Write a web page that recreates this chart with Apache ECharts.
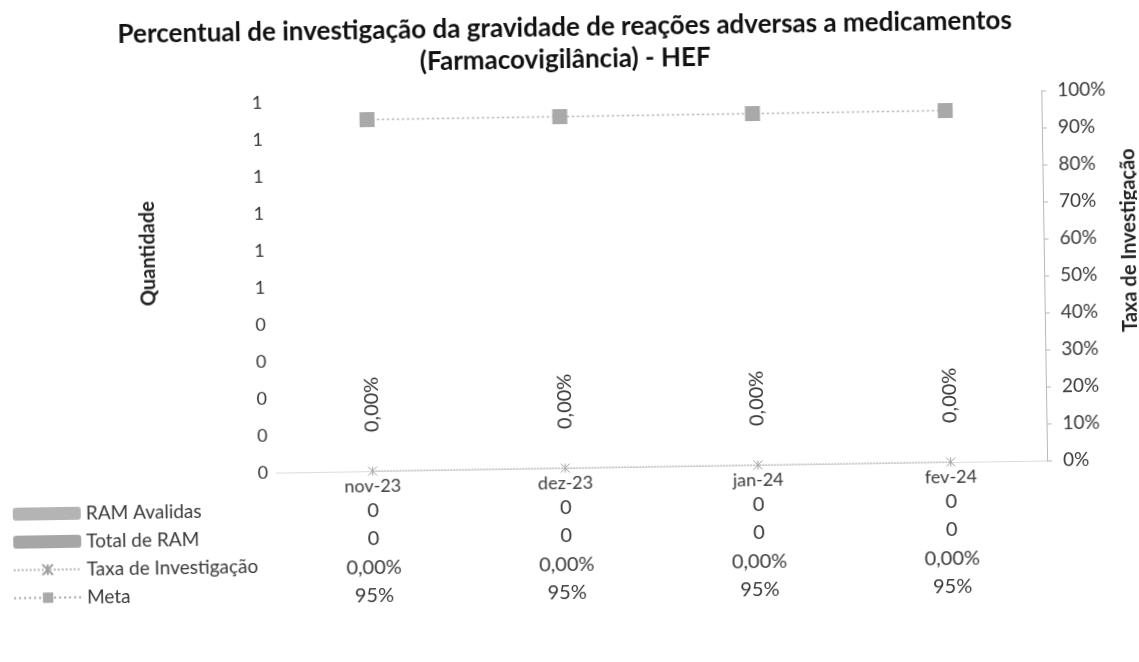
<!DOCTYPE html>
<html>
<head>
<meta charset="utf-8">
<script src="https://cdn.jsdelivr.net/npm/echarts@6/dist/echarts.min.js"></script>
<style>
  html, body { margin: 0; padding: 0; background: #fff; overflow: hidden; }
  /* the reference is a slightly tilted scan */
  #chart { width: 1139px; height: 662px; transform: rotate(-0.9deg); }
</style>
</head>
<body>
<div id="chart"></div>
<script>
const categories = ['nov-23', 'dez-23', 'jan-24', 'fev-24'];
const ramAvaliadas = [0, 0, 0, 0];
const totalRam = [0, 0, 0, 0];
const taxaInvestigacao = [0, 0, 0, 0];
const meta = [0.95, 0.95, 0.95, 0.95];

const FONT = 'Lato, "Open Sans", sans-serif';
const TXT = '#3a3a3a';

// Excel-style number formats
function pctBR(v, digits) {
  return (v * 100).toFixed(digits).replace('.', ',') + '%';
}

// asterisk marker used by Excel for the rate series
const asterisk = 'path://M0,0L10,10M10,0L0,10M5,0L5,10';

// data table rows are drawn as extra category axes under the plot
function tableAxis(values, offset) {
  return {
    type: 'category',
    data: values,
    position: 'bottom',
    offset: offset,
    axisLine: { show: false },
    axisTick: { show: false },
    axisLabel: { fontFamily: FONT, fontSize: 20, color: TXT, margin: 5 }
  };
}

const chart = echarts.init(document.getElementById('chart'));

chart.setOption({
  animation: false,
  title: {
    text: 'Percentual de investigação da gravidade de reações adversas a medicamentos\n(Farmacovigilância) - HEF',
    left: 'center',
    top: 7,
    textStyle: { fontFamily: FONT, fontSize: 26, fontWeight: 'bold', color: '#111', lineHeight: 32 }
  },
  legend: {
    orient: 'vertical',
    left: 4,
    top: 491,
    itemWidth: 68,
    itemHeight: 13,
    itemGap: 9,
    textStyle: { fontFamily: FONT, fontSize: 19, color: TXT },
    data: ['RAM Avalidas', 'Total de RAM', 'Taxa de Investigação', 'Meta']
  },
  grid: { left: 274, right: 94, top: 98, bottom: 194, outerBoundsMode: 'none' },
  xAxis: [
    {
      type: 'category',
      data: categories,
      axisLine: { show: true, lineStyle: { color: '#dcdcdc' } },
      axisTick: { show: false },
      axisLabel: { fontFamily: FONT, fontSize: 18, color: TXT, margin: 6 }
    },
    tableAxis(ramAvaliadas.map(v => String(v)), 25),
    tableAxis(totalRam.map(v => String(v)), 53),
    tableAxis(taxaInvestigacao.map(v => pctBR(v, 2)), 82),
    tableAxis(meta.map(v => pctBR(v, 0)), 110)
  ],
  yAxis: [
    {
      type: 'value',
      min: 0,
      max: 1,
      interval: 0.1,
      name: 'Quantidade',
      nameLocation: 'middle',
      nameRotate: 90,
      nameGap: 114,
      nameTextStyle: { fontFamily: FONT, fontSize: 20, fontWeight: 'bold', color: '#222', padding: [0, 0, 0, 72] },
      axisLine: { show: false },
      axisTick: { show: false },
      splitLine: { show: false },
      axisLabel: { fontFamily: FONT, fontSize: 18, color: TXT, margin: 8, formatter: v => String(Math.round(v)) }
    },
    {
      type: 'value',
      min: 0,
      max: 1,
      interval: 0.1,
      position: 'right',
      name: 'Taxa de Investigação',
      nameLocation: 'middle',
      nameRotate: 90,
      nameGap: 70,
      nameTextStyle: { fontFamily: FONT, fontSize: 20, fontWeight: 'bold', color: '#222', padding: [0, 0, 0, 68] },
      axisLine: { show: true, lineStyle: { color: '#b8b8b8' } },
      axisTick: { show: true, length: 5, lineStyle: { color: '#b8b8b8' } },
      splitLine: { show: false },
      axisLabel: { fontFamily: FONT, fontSize: 19, color: TXT, margin: 16, formatter: v => pctBR(v, 0) }
    }
  ],
  series: [
    {
      name: 'RAM Avalidas',
      type: 'bar',
      data: ramAvaliadas,
      itemStyle: { color: '#b4b4b4' }
    },
    {
      name: 'Total de RAM',
      type: 'bar',
      data: totalRam,
      itemStyle: { color: '#a6a6a6' }
    },
    {
      name: 'Taxa de Investigação',
      type: 'line',
      yAxisIndex: 1,
      data: taxaInvestigacao,
      symbol: asterisk,
      symbolSize: 9,
      lineStyle: { color: '#b8b8b8', width: 1.5, type: 'dotted' },
      itemStyle: { color: 'rgba(0,0,0,0)', borderColor: '#a0a0a0', borderWidth: 1 },
      label: {
        show: true,
        position: 'top',
        rotate: 90,
        align: 'left',
        verticalAlign: 'middle',
        distance: 34,
        fontFamily: FONT,
        fontSize: 20,
        color: TXT,
        formatter: p => pctBR(p.value, 2)
      }
    },
    {
      name: 'Meta',
      type: 'line',
      yAxisIndex: 1,
      data: meta,
      symbol: 'rect',
      symbolSize: 15,
      lineStyle: { color: '#a8a8a8', width: 1.5, type: [2, 3] },
      itemStyle: { color: '#a9a9a9' }
    }
  ]
});

window.addEventListener('resize', () => chart.resize());
</script>
</body>
</html>
